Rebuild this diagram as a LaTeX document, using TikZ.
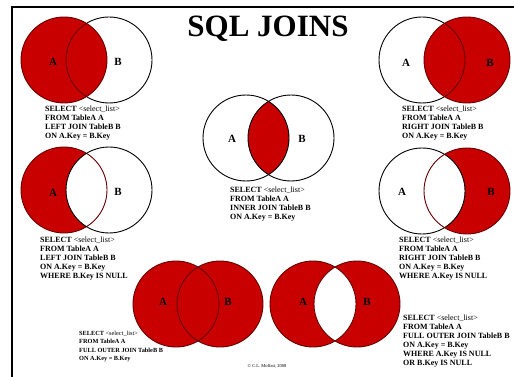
\documentclass[tikz,border=0pt]{standalone}
\usepackage{fontspec}
\setmainfont{Liberation Serif}
\definecolor{jred}{RGB}{200,0,0}
\definecolor{jdark}{RGB}{105,0,0}
\tikzset{
  code/.style={font=\bfseries\fontsize{8}{9}\selectfont, align=left, anchor=north west, inner sep=0pt},
  smallcode/.style={code, font=\bfseries\fontsize{6.3}{8.4}\selectfont},
  lbl/.style={font=\bfseries\fontsize{11}{11}\selectfont, inner sep=0pt},
  ring/.style={draw=black, line width=0.9pt},
  redring/.style={draw=jdark, line width=0.9pt},
  redfill/.style={fill=jred},
}
\newcommand{\selline}{SELECT \textnormal{<select\_list>}}
\begin{document}
\begin{tikzpicture}[x=1pt,y=-1pt]
\useasboundingbox (0,0) rectangle (514,377);
\def\rr{43}
% frame
\coordinate (fb) at (12,377);
\coordinate (fc) at (12,7);
\coordinate (fr) at (514,7);
\draw[line width=2pt] (fb) -- (fc) -- (fr);

% title
\node[font=\bfseries\fontsize{31}{31}\selectfont, anchor=base, inner sep=0pt] (title) at (268,37) {SQL JOINS};

% ---- top left: LEFT JOIN
\draw[ring] (109,60) circle[radius=\rr];
\filldraw[redfill, redring] (64,60) circle[radius=\rr];
\begin{scope}\clip (64,60) circle[radius=\rr]; \draw[redring] (109,60) circle[radius=\rr];\end{scope}
\node[lbl] (tlA) at (53,62) {A};
\node[lbl] (tlB) at (118,62) {B};
\node[code] (tlT) at (45,106) {\selline\\FROM TableA A\\LEFT JOIN TableB B\\ON A.Key = B.Key};

% ---- top right: RIGHT JOIN
\draw[ring] (422,60) circle[radius=\rr];
\filldraw[redfill, redring] (467,60) circle[radius=\rr];
\begin{scope}\clip (467,60) circle[radius=\rr]; \draw[redring] (422,60) circle[radius=\rr];\end{scope}
\node[lbl] (trA) at (406,63) {A};
\node[lbl] (trB) at (490,63) {B};
\node[code] (trT) at (402,106) {\selline\\FROM TableA A\\RIGHT JOIN TableB B\\ON A.Key = B.Key};

% ---- center: INNER JOIN
\begin{scope}\clip (246,138) circle[radius=\rr]; \fill[jred] (291,138) circle[radius=\rr];\end{scope}
\draw[ring] (246,138) circle[radius=\rr];
\draw[ring] (291,138) circle[radius=\rr];
\node[lbl] (cA) at (232,139) {A};
\node[lbl] (cB) at (302,139) {B};
\node[code] (cT) at (230,187) {\selline\\FROM TableA A\\INNER JOIN TableB B\\ON A.Key = B.Key};

% ---- left middle: LEFT JOIN excluding
\fill[jred] (64,190) circle[radius=\rr];
\begin{scope}\clip (64,190) circle[radius=\rr]; \fill[white] (109,190) circle[radius=\rr];\end{scope}
\draw[redring] (64,190) circle[radius=\rr];
\draw[ring] (109,190) circle[radius=\rr];
\node[lbl] (lmA) at (53,193) {A};
\node[lbl] (lmB) at (118,192) {B};
\node[code] (lmT) at (40,237) {\selline\\FROM TableA A\\LEFT JOIN TableB B\\ON A.Key = B.Key\\WHERE B.Key IS NULL};

% ---- right middle: RIGHT JOIN excluding
\fill[jred] (467,191) circle[radius=\rr];
\begin{scope}\clip (467,191) circle[radius=\rr]; \fill[white] (422,191) circle[radius=\rr];\end{scope}
\draw[ring] (422,191) circle[radius=\rr];
\draw[redring] (467,191) circle[radius=\rr];
\node[lbl] (rmA) at (402,192) {A};
\node[lbl] (rmB) at (491,192) {B};
\node[code] (rmT) at (399,237) {\selline\\FROM TableA A\\RIGHT JOIN TableB B\\ON A.Key = B.Key\\WHERE A.Key IS NULL};

% ---- bottom left: FULL OUTER JOIN
\fill[jred] (176,304) circle[radius=\rr];
\fill[jred] (220,304) circle[radius=\rr];
\draw[redring] (176,304) circle[radius=\rr];
\draw[redring] (220,304) circle[radius=\rr];
\node[lbl] (blA) at (163,302) {A};
\node[lbl] (blB) at (228,302) {B};
\node[smallcode] (blT) at (79,331) {\selline\\FROM TableA A\\FULL OUTER JOIN TableB B\\ON A.Key = B.Key};

% ---- bottom right: FULL OUTER JOIN excluding
\fill[jred] (313,304) circle[radius=\rr];
\fill[jred] (357,304) circle[radius=\rr];
\begin{scope}\clip (313,304) circle[radius=\rr]; \fill[white] (357,304) circle[radius=\rr];\end{scope}
\draw[redring] (313,304) circle[radius=\rr];
\draw[redring] (357,304) circle[radius=\rr];
\node[lbl] (brA) at (303,302) {A};
\node[lbl] (brB) at (367,302) {B};
\node[code] (brT) at (403,315) {\selline\\FROM TableA A\\FULL OUTER JOIN TableB B\\ON A.Key = B.Key\\WHERE A.Key IS NULL\\OR B.Key IS NULL};

% footer
\node[font=\fontsize{4.5}{5}\selectfont, inner sep=0pt] (foot) at (267,366) {© C.L. Moffatt, 2008};
\end{tikzpicture}
\end{document}
